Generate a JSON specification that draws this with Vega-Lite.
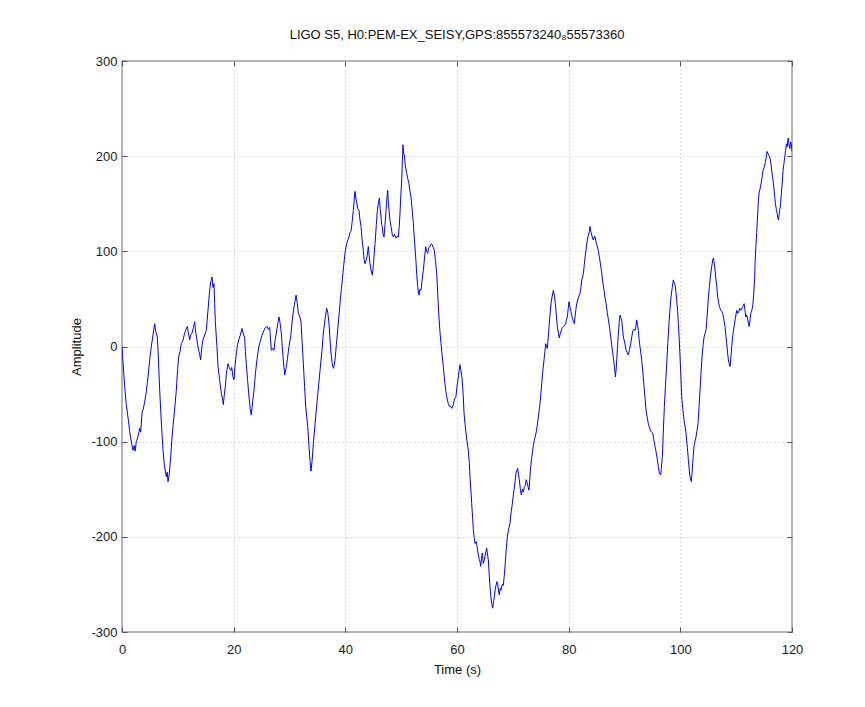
{
  "$schema": "https://vega.github.io/schema/vega-lite/v6.json",
  "autosize": {"type": "none"},
  "padding": {"left": 122, "top": 61, "right": 73, "bottom": 75},
  "width": 670,
  "height": 571,
  "background": "white",
  "title": {
    "text": "LIGO S5, H0:PEM-EX_SEISY,GPS:855573240₈55573360",
    "font": "Liberation Sans",
    "fontSize": 13,
    "fontWeight": "normal",
    "color": "#111111",
    "offset": 13
  },
  "config": {
    "view": {"stroke": "#9a9a9a", "strokeWidth": 1.5},
    "axis": {
      "domain": false,
      "grid": true,
      "gridColor": "#b4b4b4",
      "gridDash": [1, 3],
      "gridWidth": 1,
      "ticks": true,
      "tickSize": -5,
      "tickColor": "#555555",
      "tickWidth": 1,
      "labelFont": "Liberation Sans",
      "labelFontSize": 13,
      "labelColor": "#1a1a1a",
      "labelFlush": false,
      "labelPadding": 10,
      "labelExpr": "'' + datum.value",
      "titleFont": "Liberation Sans",
      "titleFontSize": 13,
      "titleFontWeight": "normal",
      "titleColor": "#111111"
    }
  },
  "data": {
    "values": [
      {"t":0,"v":0},{"t":0.2,"v":-18},{"t":0.48,"v":-42},{"t":0.75,"v":-60},{"t":1.07,"v":-74},{"t":1.37,"v":-89},{"t":1.6,"v":-98},{"t":1.97,"v":-109},{"t":2.2,"v":-104},{"t":2.35,"v":-110},{"t":2.57,"v":-100},{"t":2.85,"v":-95},{"t":3.17,"v":-86},{"t":3.35,"v":-90},{"t":3.58,"v":-70},{"t":3.8,"v":-66},{"t":4.06,"v":-58},{"t":4.3,"v":-50},{"t":4.66,"v":-32},{"t":5.0,"v":-12},{"t":5.25,"v":0},{"t":5.55,"v":12},{"t":5.85,"v":24},{"t":6.05,"v":16},{"t":6.33,"v":10},{"t":6.5,"v":-10},{"t":6.75,"v":-46},{"t":7.0,"v":-75},{"t":7.34,"v":-109},{"t":7.6,"v":-125},{"t":7.94,"v":-137},{"t":8.1,"v":-132},{"t":8.24,"v":-142},{"t":8.45,"v":-135},{"t":8.72,"v":-116},{"t":8.9,"v":-100},{"t":9.13,"v":-84},{"t":9.4,"v":-68},{"t":9.73,"v":-46},{"t":9.95,"v":-25},{"t":10.15,"v":-11},{"t":10.4,"v":-5},{"t":10.63,"v":3},{"t":10.9,"v":6},{"t":11.22,"v":14},{"t":11.45,"v":18},{"t":11.7,"v":21},{"t":11.9,"v":14},{"t":12.12,"v":7},{"t":12.3,"v":12},{"t":12.54,"v":14},{"t":12.8,"v":20},{"t":13.01,"v":26},{"t":13.2,"v":15},{"t":13.37,"v":9},{"t":13.55,"v":2},{"t":13.73,"v":-4},{"t":13.9,"v":-8},{"t":14.09,"v":-14},{"t":14.3,"v":0},{"t":14.5,"v":7},{"t":14.8,"v":12},{"t":15.1,"v":17},{"t":15.4,"v":38},{"t":15.7,"v":59},{"t":15.9,"v":68},{"t":16.12,"v":73},{"t":16.3,"v":62},{"t":16.48,"v":66},{"t":16.6,"v":45},{"t":16.72,"v":26},{"t":17.0,"v":0},{"t":17.2,"v":-21},{"t":17.5,"v":-36},{"t":17.79,"v":-49},{"t":18.0,"v":-55},{"t":18.15,"v":-61},{"t":18.3,"v":-52},{"t":18.51,"v":-42},{"t":18.7,"v":-28},{"t":18.99,"v":-18},{"t":19.2,"v":-22},{"t":19.47,"v":-25},{"t":19.65,"v":-22},{"t":19.88,"v":-32},{"t":20.06,"v":-35},{"t":20.25,"v":-20},{"t":20.48,"v":-7},{"t":20.7,"v":2},{"t":20.9,"v":7},{"t":21.2,"v":12},{"t":21.49,"v":19},{"t":21.7,"v":14},{"t":21.97,"v":9},{"t":22.1,"v":-5},{"t":22.27,"v":-19},{"t":22.5,"v":-36},{"t":22.75,"v":-53},{"t":22.95,"v":-65},{"t":23.16,"v":-72},{"t":23.4,"v":-58},{"t":23.64,"v":-46},{"t":23.9,"v":-28},{"t":24.24,"v":-11},{"t":24.5,"v":0},{"t":24.84,"v":7},{"t":25.1,"v":12},{"t":25.43,"v":17},{"t":25.7,"v":20},{"t":26.03,"v":21},{"t":26.2,"v":18},{"t":26.45,"v":20},{"t":26.6,"v":8},{"t":26.75,"v":-4},{"t":27.0,"v":-2},{"t":27.22,"v":-4},{"t":27.4,"v":6},{"t":27.64,"v":14},{"t":27.9,"v":24},{"t":28.12,"v":31},{"t":28.3,"v":25},{"t":28.54,"v":14},{"t":28.7,"v":0},{"t":28.84,"v":-11},{"t":29.0,"v":-22},{"t":29.14,"v":-30},{"t":29.4,"v":-22},{"t":29.61,"v":-14},{"t":29.9,"v":0},{"t":30.21,"v":10},{"t":30.5,"v":28},{"t":30.81,"v":42},{"t":31.0,"v":48},{"t":31.17,"v":54},{"t":31.4,"v":45},{"t":31.58,"v":35},
      {"t":31.8,"v":32},{"t":32.06,"v":26},{"t":32.25,"v":5},{"t":32.48,"v":-18},{"t":32.7,"v":-42},{"t":32.9,"v":-63},{"t":33.26,"v":-84},{"t":33.5,"v":-105},{"t":33.7,"v":-122},{"t":33.85,"v":-131},{"t":34.05,"v":-120},{"t":34.3,"v":-100},{"t":34.75,"v":-70},{"t":35.1,"v":-48},{"t":35.47,"v":-25},{"t":35.8,"v":-5},{"t":36.06,"v":14},{"t":36.35,"v":28},{"t":36.66,"v":40},{"t":36.85,"v":36},{"t":37.08,"v":24},{"t":37.25,"v":8},{"t":37.44,"v":-7},{"t":37.65,"v":-18},{"t":37.85,"v":-23},{"t":38.0,"v":-20},{"t":38.15,"v":-14},{"t":38.4,"v":2},{"t":38.63,"v":17},{"t":38.85,"v":32},{"t":39.05,"v":45},{"t":39.25,"v":58},{"t":39.46,"v":70},{"t":39.7,"v":85},{"t":39.94,"v":98},{"t":40.1,"v":104},{"t":40.24,"v":108},{"t":40.45,"v":112},{"t":40.65,"v":115},{"t":40.85,"v":120},{"t":41.01,"v":121},{"t":41.2,"v":130},{"t":41.43,"v":143},{"t":41.6,"v":155},{"t":41.73,"v":163},{"t":41.88,"v":156},{"t":42.03,"v":152},{"t":42.2,"v":145},{"t":42.45,"v":143},{"t":42.6,"v":134},{"t":42.81,"v":126},{"t":43.0,"v":112},{"t":43.22,"v":101},{"t":43.35,"v":92},{"t":43.52,"v":87},{"t":43.7,"v":90},{"t":43.88,"v":94},{"t":44.0,"v":100},{"t":44.12,"v":105},{"t":44.25,"v":96},{"t":44.42,"v":87},{"t":44.6,"v":80},{"t":44.84,"v":75},{"t":45.05,"v":88},{"t":45.32,"v":108},{"t":45.55,"v":128},{"t":45.74,"v":143},{"t":45.9,"v":150},{"t":46.1,"v":156},{"t":46.25,"v":144},{"t":46.4,"v":136},{"t":46.5,"v":128},{"t":46.63,"v":126},{"t":46.75,"v":118},{"t":46.93,"v":115},{"t":47.1,"v":128},{"t":47.29,"v":143},{"t":47.45,"v":156},{"t":47.59,"v":164},{"t":47.7,"v":152},{"t":47.83,"v":143},{"t":48.0,"v":132},{"t":48.19,"v":126},{"t":48.4,"v":118},{"t":48.61,"v":115},{"t":48.8,"v":118},{"t":49.09,"v":114},{"t":49.3,"v":116},{"t":49.49,"v":115},{"t":49.65,"v":126},{"t":49.79,"v":140},{"t":49.95,"v":160},{"t":50.1,"v":175},{"t":50.22,"v":195},{"t":50.33,"v":212},{"t":50.45,"v":203},{"t":50.57,"v":201},{"t":50.75,"v":190},{"t":50.99,"v":182},{"t":51.2,"v":176},{"t":51.4,"v":171},{"t":51.6,"v":162},{"t":51.76,"v":157},{"t":52.0,"v":142},{"t":52.18,"v":129},{"t":52.4,"v":110},{"t":52.6,"v":94},{"t":52.8,"v":75},{"t":52.96,"v":63},{"t":53.1,"v":56},{"t":53.2,"v":54},{"t":53.35,"v":60},{"t":53.55,"v":59},{"t":53.75,"v":70},{"t":53.97,"v":80},{"t":54.2,"v":94},{"t":54.39,"v":105},{"t":54.55,"v":100},{"t":54.75,"v":98},{"t":54.95,"v":104},{"t":55.17,"v":105},{"t":55.4,"v":108},{"t":55.58,"v":107},{"t":55.75,"v":104},{"t":55.94,"v":101},{"t":56.15,"v":90},{"t":56.36,"v":77},{"t":56.55,"v":55},{"t":56.77,"v":31},{"t":56.95,"v":15},{"t":57.13,"v":3},{"t":57.35,"v":-10},{"t":57.55,"v":-21},{"t":57.75,"v":-34},{"t":57.97,"v":-46},{"t":58.2,"v":-54},{"t":58.44,"v":-60},{"t":58.65,"v":-63},{"t":58.86,"v":-63},{"t":59.1,"v":-65},{"t":59.34,"v":-61},{"t":59.55,"v":-55},{"t":59.8,"v":-53},{"t":60.0,"v":-42},{"t":60.24,"v":-32},{"t":60.4,"v":-25},{"t":60.54,"v":-19},{"t":60.7,"v":-25},{"t":60.9,"v":-33},{"t":61.1,"v":-50},{"t":61.26,"v":-70},{"t":61.45,"v":-82},{"t":61.62,"v":-91},{"t":61.8,"v":-100},{"t":62.03,"v":-109},{"t":62.2,"v":-122},{"t":62.33,"v":-137},{"t":62.5,"v":-152},{"t":62.63,"v":-165},{"t":62.8,"v":-180},{"t":62.93,"v":-193},{"t":63.1,"v":-202},{"t":63.23,"v":-207},{"t":63.45,"v":-205},{"t":63.64,"v":-212},{"t":63.8,"v":-218},{"t":64.0,"v":-224},{"t":64.12,"v":-226},{"t":64.24,"v":-231},{"t":64.4,"v":-222},{"t":64.54,"v":-217},{"t":64.7,"v":-228},{"t":64.9,"v":-224},{"t":65.1,"v":-218},{"t":65.32,"v":-212},{"t":65.45,"v":-218},{"t":65.61,"v":-224},{"t":65.75,"v":-238},{"t":65.91,"v":-252},{"t":66.05,"v":-262},{"t":66.21,"v":-270},{"t":66.39,"v":-275},{"t":66.55,"v":-268},{"t":66.69,"v":-263},{"t":66.85,"v":-255},{"t":66.99,"v":-251},{"t":67.15,"v":-247},{"t":67.29,"v":-249},{"t":67.45,"v":-258},{"t":67.58,"v":-261},{"t":67.75,"v":-254},{"t":67.88,"v":-256},{"t":68.1,"v":-250},{"t":68.3,"v":-251},{"t":68.45,"v":-242},{"t":68.6,"v":-231},{"t":68.8,"v":-215},{"t":69.01,"v":-200},{"t":69.25,"v":-192},{"t":69.49,"v":-186},{"t":69.65,"v":-176},{"t":69.85,"v":-168},{"t":70.05,"v":-158},{"t":70.21,"v":-151},{"t":70.4,"v":-142},{"t":70.57,"v":-133},{"t":70.75,"v":-130},{"t":70.87,"v":-128},{"t":71.0,"v":-134},{"t":71.16,"v":-140},{"t":71.35,"v":-150},{"t":71.52,"v":-156},{"t":71.7,"v":-150},{"t":71.88,"v":-153},{"t":72.05,"v":-148},{"t":72.24,"v":-146},{"t":72.4,"v":-140},{"t":72.6,"v":-144},{"t":72.75,"v":-148},{"t":72.9,"v":-151},{"t":73.05,"v":-138},{"t":73.2,"v":-126},{"t":73.4,"v":-116},{"t":73.56,"v":-109},{"t":73.7,"v":-103},{"t":73.85,"v":-98},{"t":74.0,"v":-95},{"t":74.15,"v":-91},{"t":74.35,"v":-84},{"t":74.51,"v":-77},{"t":74.7,"v":-68},{"t":74.87,"v":-60},{"t":75.05,"v":-48},{"t":75.23,"v":-35},{"t":75.4,"v":-24},{"t":75.59,"v":-14},{"t":75.75,"v":-5},{"t":75.89,"v":3},{"t":76.05,"v":0},{"t":76.18,"v":-2},{"t":76.35,"v":10},{"t":76.49,"v":21},{"t":76.65,"v":33},{"t":76.84,"v":45},{"t":77.05,"v":53},{"t":77.26,"v":59},{"t":77.45,"v":53},{"t":77.62,"v":45},{"t":77.8,"v":32},{"t":77.98,"v":21},{"t":78.15,"v":14},{"t":78.33,"v":9},{"t":78.5,"v":14},{"t":78.69,"v":17},{"t":78.85,"v":20},{"t":79.05,"v":21},{"t":79.25,"v":22},{"t":79.47,"v":24},{"t":79.6,"v":28},{"t":79.77,"v":31},{"t":79.92,"v":40},{"t":80.07,"v":47},{"t":80.22,"v":42},{"t":80.37,"v":38},{"t":80.55,"v":33},{"t":80.73,"v":28},{"t":80.9,"v":26},{"t":81.02,"v":24},{"t":81.15,"v":32},{"t":81.32,"v":40},{"t":81.45,"v":45},{"t":81.62,"v":49},{"t":81.85,"v":53},{"t":82.04,"v":56},{"t":82.2,"v":62},{"t":82.34,"v":70},{"t":82.5,"v":73},{"t":82.64,"v":77},{"t":82.8,"v":86},{"t":82.94,"v":94},{"t":83.1,"v":101},{"t":83.24,"v":108},{"t":83.4,"v":114},{"t":83.54,"v":117},{"t":83.7,"v":121},{"t":83.84,"v":126},{"t":84.0,"v":120},{"t":84.14,"v":117},{"t":84.3,"v":113},{"t":84.44,"v":112},{"t":84.6,"v":116},{"t":84.74,"v":115},{"t":84.9,"v":110},{"t":85.04,"v":107},{"t":85.2,"v":103},{"t":85.33,"v":100},{"t":85.5,"v":94},{"t":85.63,"v":89},{"t":85.8,"v":82},{"t":85.93,"v":77},{"t":86.1,"v":68},{"t":86.34,"v":59},{"t":86.5,"v":52},{"t":86.7,"v":45},{"t":86.9,"v":36},{"t":87.12,"v":28},{"t":87.35,"v":19},{"t":87.54,"v":10},{"t":87.7,"v":2},{"t":87.89,"v":-7},{"t":88.05,"v":-14},{"t":88.19,"v":-21},{"t":88.3,"v":-27},{"t":88.37,"v":-32},{"t":88.5,"v":-24},{"t":88.61,"v":-14},{"t":88.75,"v":0},{"t":88.91,"v":14},{"t":89.05,"v":25},{"t":89.2,"v":33},{"t":89.35,"v":30},{"t":89.5,"v":28},{"t":89.65,"v":18},{"t":89.8,"v":10},{"t":89.92,"v":7},{"t":90.1,"v":2},{"t":90.28,"v":-4},{"t":90.45,"v":-6},{"t":90.69,"v":-9},{"t":90.9,"v":-3},{"t":91.11,"v":3},{"t":91.3,"v":10},{"t":91.47,"v":16},{"t":91.7,"v":18},{"t":91.89,"v":17},{"t":92.05,"v":22},{"t":92.18,"v":28},{"t":92.3,"v":24},{"t":92.48,"v":17},{"t":92.6,"v":8},{"t":92.78,"v":0},{"t":92.95,"v":-8},{"t":93.08,"v":-14},{"t":93.3,"v":-28},{"t":93.5,"v":-42},{"t":93.7,"v":-56},{"t":93.86,"v":-67},{"t":94.05,"v":-74},{"t":94.27,"v":-81},{"t":94.5,"v":-86},{"t":94.69,"v":-89},{"t":94.85,"v":-90},{"t":95.05,"v":-91},{"t":95.25,"v":-98},{"t":95.46,"v":-105},{"t":95.7,"v":-112},{"t":95.88,"v":-119},{"t":96.05,"v":-126},{"t":96.24,"v":-133},{"t":96.48,"v":-135},{"t":96.6,"v":-128},{"t":96.78,"v":-116},{"t":96.95,"v":-90},{"t":97.14,"v":-63},{"t":97.35,"v":-40},{"t":97.56,"v":-18},{"t":97.75,"v":3},{"t":97.97,"v":24},{"t":98.15,"v":40},{"t":98.33,"v":52},{"t":98.55,"v":62},{"t":98.75,"v":70},{"t":98.9,"v":67},{"t":99.05,"v":65},{"t":99.2,"v":58},{"t":99.35,"v":49},{"t":99.5,"v":38},{"t":99.65,"v":24},{"t":99.8,"v":8},{"t":99.95,"v":-11},{"t":100.1,"v":-32},{"t":100.25,"v":-53},{"t":100.45,"v":-66},{"t":100.66,"v":-77},{"t":100.85,"v":-84},{"t":101.02,"v":-91},{"t":101.25,"v":-106},{"t":101.44,"v":-119},{"t":101.6,"v":-130},{"t":101.73,"v":-137},{"t":101.97,"v":-142},{"t":102.1,"v":-133},{"t":102.21,"v":-123},{"t":102.35,"v":-112},{"t":102.45,"v":-105},{"t":102.62,"v":-100},{"t":102.81,"v":-95},{"t":103.0,"v":-88},{"t":103.17,"v":-81},{"t":103.35,"v":-64},{"t":103.53,"v":-46},{"t":103.7,"v":-28},{"t":103.89,"v":-11},{"t":104.05,"v":0},{"t":104.25,"v":10},{"t":104.45,"v":14},{"t":104.6,"v":17},{"t":104.72,"v":26},{"t":104.84,"v":35},{"t":105.0,"v":50},{"t":105.2,"v":63},{"t":105.4,"v":74},{"t":105.62,"v":84},{"t":105.78,"v":90},{"t":105.92,"v":93},{"t":106.05,"v":88},{"t":106.22,"v":80},{"t":106.35,"v":72},{"t":106.52,"v":63},{"t":106.7,"v":52},{"t":106.88,"v":45},{"t":107.05,"v":41},{"t":107.24,"v":38},{"t":107.4,"v":37},{"t":107.6,"v":35},{"t":107.8,"v":28},{"t":108.01,"v":21},{"t":108.15,"v":12},{"t":108.31,"v":3},{"t":108.45,"v":-6},{"t":108.61,"v":-14},{"t":108.75,"v":-18},{"t":108.91,"v":-21},{"t":109.05,"v":-12},{"t":109.21,"v":0},{"t":109.35,"v":9},{"t":109.51,"v":17},{"t":109.65,"v":22},{"t":109.81,"v":28},{"t":109.95,"v":33},{"t":110.11,"v":38},{"t":110.3,"v":35},{"t":110.47,"v":37},{"t":110.65,"v":40},{"t":110.83,"v":38},{"t":111.0,"v":40},{"t":111.19,"v":42},{"t":111.3,"v":44},{"t":111.43,"v":45},{"t":111.58,"v":38},{"t":111.73,"v":31},{"t":111.9,"v":33},{"t":112.09,"v":28},{"t":112.2,"v":24},{"t":112.33,"v":21},{"t":112.48,"v":28},{"t":112.63,"v":35},{"t":112.8,"v":38},{"t":112.99,"v":44},{"t":113.15,"v":56},{"t":113.29,"v":70},{"t":113.4,"v":88},{"t":113.53,"v":105},{"t":113.68,"v":120},{"t":113.83,"v":136},{"t":113.95,"v":150},{"t":114.09,"v":161},{"t":114.25,"v":165},{"t":114.45,"v":171},{"t":114.6,"v":176},{"t":114.81,"v":185},{"t":115.0,"v":188},{"t":115.17,"v":192},{"t":115.35,"v":198},{"t":115.53,"v":205},{"t":115.68,"v":203},{"t":115.83,"v":201},{"t":116.0,"v":199},{"t":116.13,"v":196},{"t":116.3,"v":189},{"t":116.43,"v":182},{"t":116.6,"v":175},{"t":116.73,"v":168},{"t":116.9,"v":158},{"t":117.03,"v":150},{"t":117.2,"v":144},{"t":117.33,"v":140},{"t":117.45,"v":136},{"t":117.56,"v":133},{"t":117.68,"v":138},{"t":117.8,"v":143},{"t":117.95,"v":150},{"t":118.1,"v":161},{"t":118.25,"v":172},{"t":118.4,"v":185},{"t":118.55,"v":192},{"t":118.7,"v":199},{"t":118.85,"v":206},{"t":119.0,"v":213},{"t":119.15,"v":210},{"t":119.3,"v":219},{"t":119.45,"v":213},{"t":119.6,"v":208},{"t":119.75,"v":215},{"t":119.9,"v":212},{"t":120,"v":205}
    ]
  },
  "layer": [
    {
      "mark": {"type": "line", "color": "#0000ff", "strokeWidth": 1, "clip": true},
      "encoding": {
        "x": {
          "field": "t",
          "type": "quantitative",
          "scale": {"domain": [0, 120], "nice": false, "zero": false},
          "axis": {"title": "Time (s)", "values": [0, 20, 40, 60, 80, 100, 120], "labelPadding": 16, "titlePadding": 7}
        },
        "y": {
          "field": "v",
          "type": "quantitative",
          "scale": {"domain": [-300, 300], "nice": false},
          "axis": {"title": "Amplitude", "values": [-300, -200, -100, 0, 100, 200, 300], "titlePadding": 7}
        }
      }
    },
    {
      "mark": {"type": "line", "opacity": 0},
      "encoding": {
        "x": {
          "field": "t",
          "type": "quantitative",
          "axis": {"orient": "top", "labels": false, "grid": false, "title": null, "values": [0, 20, 40, 60, 80, 100, 120]}
        },
        "y": {
          "field": "v",
          "type": "quantitative",
          "axis": {"orient": "right", "labels": false, "grid": false, "title": null, "values": [-300, -200, -100, 0, 100, 200, 300]}
        }
      }
    }
  ],
  "resolve": {"axis": {"x": "independent", "y": "independent"}}
}
